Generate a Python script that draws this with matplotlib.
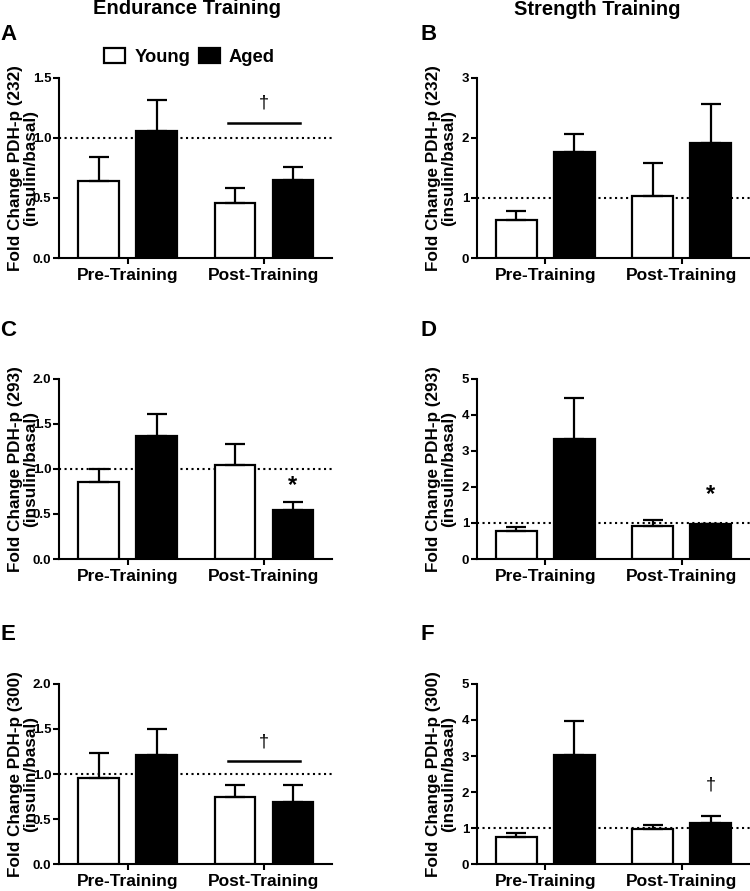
import numpy as np
import matplotlib
matplotlib.use('Agg')
import matplotlib.pyplot as plt
from matplotlib.patches import Patch

plt.rcParams['font.family'] = ['Liberation Sans', 'DejaVu Sans']
plt.rcParams['font.weight'] = 'bold'

groups = ['Pre-Training', 'Post-Training']
series = ['Young', 'Aged']

# mean and SEM, order: Pre, Post
young_A = [0.64, 0.455]; young_A_sem = [0.20, 0.125]
aged_A = [1.06, 0.65];   aged_A_sem = [0.25, 0.11]
young_B = [0.63, 1.03];  young_B_sem = [0.15, 0.55]
aged_B = [1.76, 1.91];   aged_B_sem = [0.31, 0.65]
young_C = [0.855, 1.04]; young_C_sem = [0.14, 0.23]
aged_C = [1.365, 0.54];  aged_C_sem = [0.24, 0.09]
young_D = [0.78, 0.91];  young_D_sem = [0.11, 0.17]
aged_D = [3.32, 0.96];   aged_D_sem = [1.13, 0.02]
young_E = [0.96, 0.75];  young_E_sem = [0.27, 0.13]
aged_E = [1.215, 0.685]; aged_E_sem = [0.28, 0.195]
young_F = [0.76, 0.97];  young_F_sem = [0.10, 0.13]
aged_F = [3.02, 1.15];   aged_F_sem = [0.94, 0.18]

ylabels = ['Fold Change PDH-p (232)\n(insulin/basal)',
           'Fold Change PDH-p (293)\n(insulin/basal)',
           'Fold Change PDH-p (300)\n(insulin/basal)']

fig = plt.figure(figsize=(7.5, 8.91), dpi=100)
H = 891.0

lefts = [0.0787, 0.6356]
bottoms = [0.7104, 0.3726, 0.030]
w, h = 0.364, 0.2025
letter_y = [34.5, 330.5, 634.5]   # pixel rows of panel letters
letter_x = [0.0, 420.0]

panels = [
  ('A', young_A, young_A_sem, aged_A, aged_A_sem, [0, 0.5, 1.0, 1.5], '%.1f'),
  ('B', young_B, young_B_sem, aged_B, aged_B_sem, [0, 1, 2, 3], '%d'),
  ('C', young_C, young_C_sem, aged_C, aged_C_sem, [0, 0.5, 1.0, 1.5, 2.0], '%.1f'),
  ('D', young_D, young_D_sem, aged_D, aged_D_sem, [0, 1, 2, 3, 4, 5], '%d'),
  ('E', young_E, young_E_sem, aged_E, aged_E_sem, [0, 0.5, 1.0, 1.5, 2.0], '%.1f'),
  ('F', young_F, young_F_sem, aged_F, aged_F_sem, [0, 1, 2, 3, 4, 5], '%d'),
]

x = np.arange(len(groups))
bw = 0.30
off = 0.213
axes = {}
for i, (letter, yv, ys, av, asem, yt, fmt) in enumerate(panels):
  row, col = i // 2, i % 2
  ax = fig.add_axes([lefts[col], bottoms[row], w, h])
  axes[letter] = ax
  ekw = dict(elinewidth=1.6, capthick=1.6, ecolor='black')
  ax.bar(x - off, yv, bw, yerr=[np.zeros(2), ys], capsize=7,
         color='white', edgecolor='black', linewidth=1.6, error_kw=ekw, zorder=3)
  ax.bar(x + off, av, bw, yerr=[np.zeros(2), asem], capsize=7,
         color='black', edgecolor='black', linewidth=1.6, error_kw=ekw, zorder=3)
  ax.axhline(1, color='black', linestyle=':', linewidth=1.5, zorder=1)
  ax.set_xlim(-0.505, 1.5)
  ax.set_ylim(yt[0], yt[-1])
  ax.set_yticks(yt)
  ax.set_yticklabels([fmt % t for t in yt], fontsize=9.5, fontweight='bold')
  ax.set_xticks(x)
  ax.set_xticklabels(groups, fontsize=12.5, fontweight='bold')
  for s in ['top', 'right']:
    ax.spines[s].set_visible(False)
  for s in ['left', 'bottom']:
    ax.spines[s].set_linewidth(1.5)
  ax.tick_params(width=1.5, length=4)
  ax.tick_params(axis='x', pad=3)
  ax.tick_params(axis='y', pad=1.5)
  ax.set_ylabel(ylabels[row], fontsize=12.3, fontweight='bold', linespacing=1.05)
  ax.yaxis.set_label_coords(-0.075, 0.5)
  fig.text(letter_x[col] / 750.0, 1 - letter_y[row] / H, letter,
           fontsize=16, fontweight='bold', ha='left', va='center')

# significance marks
for letter, ly, dy in [('A', 1.12, 1.29), ('E', 1.15, 1.36)]:
  ax = axes[letter]
  ax.plot([1 - 0.265, 1 + 0.265], [ly, ly], color='black', linewidth=1.8)
  ax.text(1, dy, '\u2020', ha='center', va='center', fontsize=13, fontweight='normal')
axes['C'].text(1 + off, 0.82, '*', ha='center', va='center', fontsize=17, fontweight='bold')
axes['D'].text(1 + off, 1.80, '*', ha='center', va='center', fontsize=17, fontweight='bold')
axes['F'].text(1 + off, 2.2, '\u2020', ha='center', va='center', fontsize=13, fontweight='normal')

fig.text(0.249, 1 - 8.5 / H, 'Endurance Training', ha='center', va='center', fontsize=14.5, fontweight='bold')
fig.text(0.797, 1 - 9.5 / H, 'Strength Training', ha='center', va='center', fontsize=14.5, fontweight='bold')

handles = [Patch(facecolor='white', edgecolor='black', linewidth=1.6),
           Patch(facecolor='black', edgecolor='black', linewidth=1.6)]
fig.legend(handles, series, loc='upper left', bbox_to_anchor=(0.139, 0.946),
           ncol=2, frameon=False, handlelength=1.15, handleheight=0.85,
           handletextpad=0.5, columnspacing=0.45, borderpad=0, borderaxespad=0,
           prop={'weight': 'bold', 'size': 13.2})

fig.savefig('out.png', dpi=100)
